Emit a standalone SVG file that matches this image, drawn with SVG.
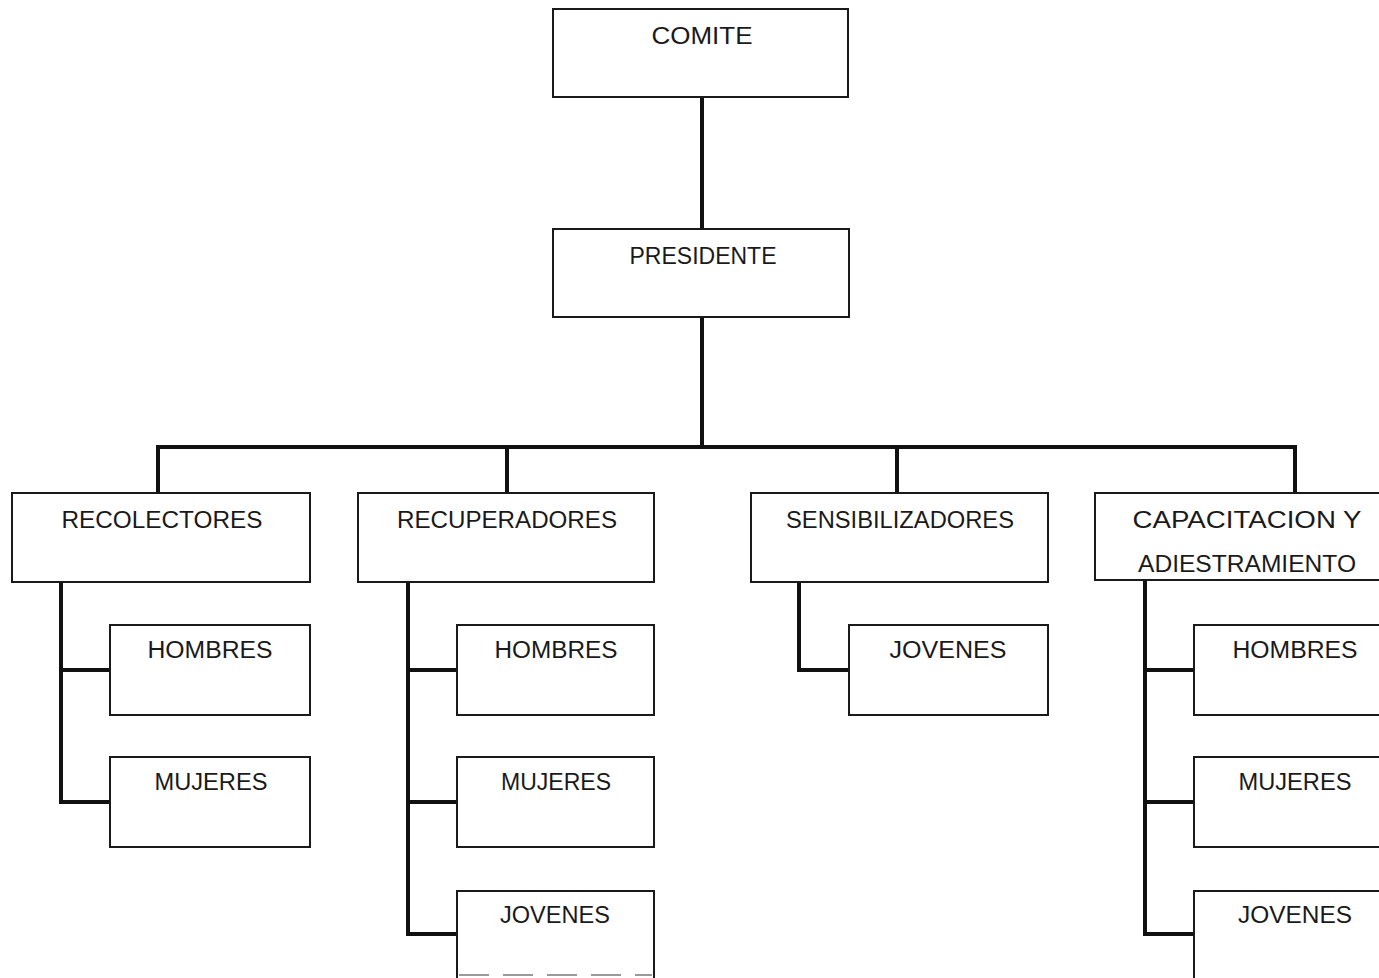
<svg xmlns="http://www.w3.org/2000/svg" width="1379" height="978" viewBox="0 0 1379 978">
  <style>
    .box { fill: #fff; stroke: #1a1a1a; stroke-width: 2; }
    .cut { stroke: #9a9a9a; stroke-width: 2; stroke-dasharray: 30 14; fill: none; }
    .lbl { font-family: "Liberation Sans", Arial, sans-serif; font-size: 23px; fill: #1a1a1a; text-anchor: middle; }
    .wire { fill: none; stroke: #111; stroke-width: 4; stroke-linejoin: miter; stroke-linecap: square; }
  </style>
  <rect width="1379" height="978" fill="#fff"/>

  <!-- connectors -->
  <g id="connectors" class="wire">
    <path d="M702 97 V229"/>
    <path d="M702 317 V447"/>
    <path d="M158 493 V447 H1295 V493"/>
    <path d="M507 447 V493"/>
    <path d="M897 447 V493"/>
    <!-- recolectores -->
    <path d="M61 582 V802 H110"/>
    <path d="M61 670 H110"/>
    <!-- recuperadores -->
    <path d="M408 582 V934 H457"/>
    <path d="M408 670 H457"/>
    <path d="M408 802 H457"/>
    <!-- sensibilizadores -->
    <path d="M799 582 V670 H849"/>
    <!-- capacitacion -->
    <path d="M1145 580 V934 H1194"/>
    <path d="M1145 670 H1194"/>
    <path d="M1145 802 H1194"/>
  </g>

  <g id="comite">
    <rect class="box" x="553" y="9" width="295" height="88"/>
    <text class="lbl" x="702" y="44" textLength="101" lengthAdjust="spacingAndGlyphs">COMITE</text>
  </g>
  <g id="presidente">
    <rect class="box" x="553" y="229" width="296" height="88"/>
    <text class="lbl" x="703" y="264" textLength="147" lengthAdjust="spacingAndGlyphs">PRESIDENTE</text>
  </g>

  <g id="recolectores">
    <rect class="box" x="12" y="493" width="298" height="89"/>
    <text class="lbl" x="162" y="528" textLength="201" lengthAdjust="spacingAndGlyphs">RECOLECTORES</text>
  </g>
  <g id="recuperadores">
    <rect class="box" x="358" y="493" width="296" height="89"/>
    <text class="lbl" x="507" y="528" textLength="220" lengthAdjust="spacingAndGlyphs">RECUPERADORES</text>
  </g>
  <g id="sensibilizadores">
    <rect class="box" x="751" y="493" width="297" height="89"/>
    <text class="lbl" x="900" y="528" textLength="228" lengthAdjust="spacingAndGlyphs">SENSIBILIZADORES</text>
  </g>
  <g id="capacitacion">
    <rect class="box" x="1095" y="493" width="300" height="87"/>
    <text class="lbl" x="1247" y="528" textLength="229" lengthAdjust="spacingAndGlyphs">CAPACITACION Y</text>
    <text class="lbl" x="1247" y="572" textLength="218" lengthAdjust="spacingAndGlyphs">ADIESTRAMIENTO</text>
  </g>

  <g id="recolectores-hombres">
    <rect class="box" x="110" y="625" width="200" height="90"/>
    <text class="lbl" x="210" y="658" textLength="125" lengthAdjust="spacingAndGlyphs">HOMBRES</text>
  </g>
  <g id="recolectores-mujeres">
    <rect class="box" x="110" y="757" width="200" height="90"/>
    <text class="lbl" x="211" y="790" textLength="113" lengthAdjust="spacingAndGlyphs">MUJERES</text>
  </g>

  <g id="recuperadores-hombres">
    <rect class="box" x="457" y="625" width="197" height="90"/>
    <text class="lbl" x="556" y="658" textLength="123" lengthAdjust="spacingAndGlyphs">HOMBRES</text>
  </g>
  <g id="recuperadores-mujeres">
    <rect class="box" x="457" y="757" width="197" height="90"/>
    <text class="lbl" x="556" y="790" textLength="110" lengthAdjust="spacingAndGlyphs">MUJERES</text>
  </g>
  <g id="recuperadores-jovenes">
    <path class="box" d="M457 978 V891 H654 V978"/>
    <path class="cut" d="M459 975 H652"/>
    <text class="lbl" x="555" y="923" textLength="110" lengthAdjust="spacingAndGlyphs">JOVENES</text>
  </g>

  <g id="sensibilizadores-jovenes">
    <rect class="box" x="849" y="625" width="199" height="90"/>
    <text class="lbl" x="948" y="658" textLength="117" lengthAdjust="spacingAndGlyphs">JOVENES</text>
  </g>

  <g id="capacitacion-hombres">
    <rect class="box" x="1194" y="625" width="200" height="90"/>
    <text class="lbl" x="1295" y="658" textLength="125" lengthAdjust="spacingAndGlyphs">HOMBRES</text>
  </g>
  <g id="capacitacion-mujeres">
    <rect class="box" x="1194" y="757" width="200" height="90"/>
    <text class="lbl" x="1295" y="790" textLength="113" lengthAdjust="spacingAndGlyphs">MUJERES</text>
  </g>
  <g id="capacitacion-jovenes">
    <path class="box" d="M1194 978 V891 H1379"/>
    <text class="lbl" x="1295" y="923" textLength="114" lengthAdjust="spacingAndGlyphs">JOVENES</text>
  </g>
</svg>
